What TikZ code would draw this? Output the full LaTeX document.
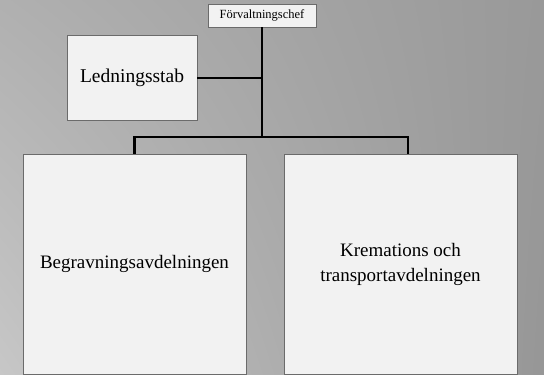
\documentclass[tikz,border=0pt]{standalone}
\usepackage{fontspec}
\setmainfont{Liberation Serif}
\usepackage{tikz}
\usetikzlibrary{shadings}

\begin{document}
\begin{tikzpicture}[x=1pt,y=-1pt,
	unit/.style={draw=black!58,line width=0.9pt,fill=black!5,inner sep=0pt,align=center,font=\fontsize{19}{25}\selectfont},
	link/.style={line width=2.2pt,black}]
	\useasboundingbox (0,0) rectangle (544,375);
	\shade[upper left=black!31,upper right=black!40,lower left=black!22,lower right=black!41] (0,0) rectangle (544,375);
	\node[unit,minimum width=108pt,minimum height=23pt,font=\fontsize{12.5}{15}\selectfont] (chef) at (262,15.5) {Förvaltningschef};
	\node[unit,minimum width=130pt,minimum height=85pt,font=\fontsize{19.5}{24}\selectfont] (stab) at (132,78) {Ledningsstab};
	\node[unit,minimum width=223pt,minimum height=220pt] (begr) at (134.5,264) {Begravningsavdelningen};
	\node[unit,minimum width=233pt,minimum height=220pt] (krem) at (400.5,264) {Kremations och\\transportavdelningen};
	\coordinate (junction) at (262,137);
	\draw[link] (chef.south) -- (junction);
	\draw[link] (stab.east) -- (stab.east -| chef.south);
	\draw[link] (begr.north) |- (junction) -| ([xshift=7.5pt]krem.north);
\end{tikzpicture}
\end{document}
